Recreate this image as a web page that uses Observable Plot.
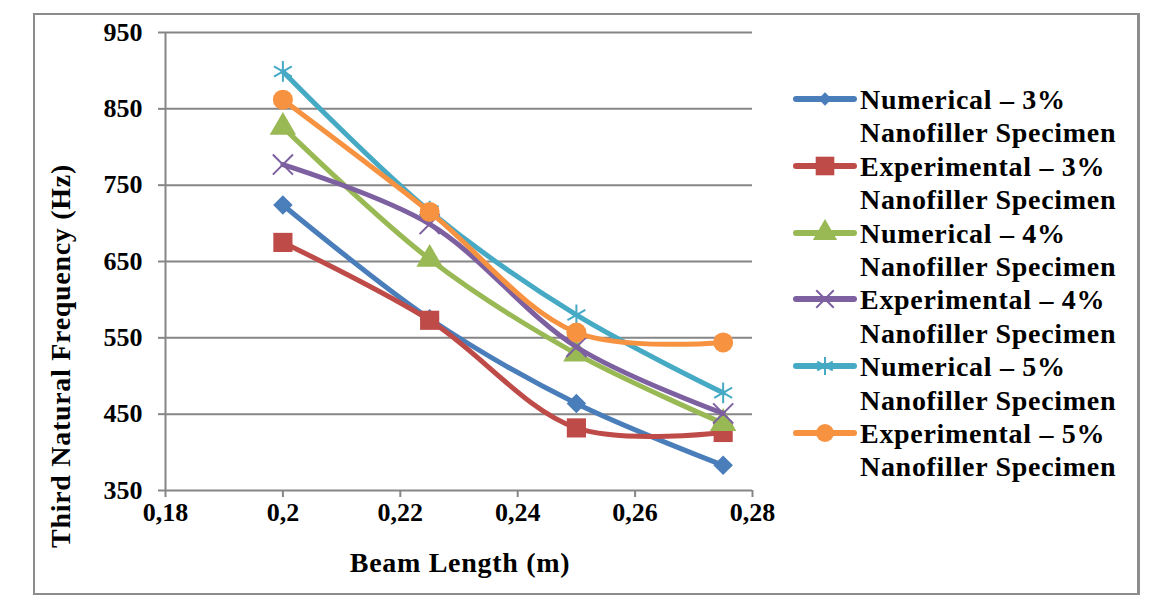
<!DOCTYPE html>
<html><head><meta charset="utf-8">
<script src="https://cdn.jsdelivr.net/npm/d3@7"></script>
<script src="https://cdn.jsdelivr.net/npm/@observablehq/plot@0.6"></script>
<style>
body{margin:0;background:#fff;}
#wrap{position:relative;width:1155px;height:603px;overflow:hidden;font-family:"Liberation Serif","Times New Roman",serif;font-weight:bold;}
#frame{position:absolute;left:33px;top:13px;width:1107px;height:582px;border:2px solid #8c8c8c;border-right-width:3px;box-sizing:border-box;}
#chart{position:absolute;left:0;top:0;}
.lg{position:absolute;left:793px;height:34px;line-height:34px;font-size:28px;letter-spacing:0.7px;color:#000;white-space:nowrap;}
.lg svg{vertical-align:top;}
.lg span{position:absolute;left:67px;top:0;}
.title{position:absolute;font-size:28px;line-height:28px;letter-spacing:0.7px;color:#000;white-space:nowrap;}
#xtitle{left:460px;top:549px;transform:translateX(-50%);}
#ytitle{left:61px;top:356px;transform:translate(-50%,-50%) rotate(-90deg);}
</style>
</head><body>
<div id="wrap"><div id="frame"></div><div id="chart"></div><div id="legend"></div>
<div id="xtitle" class="title"></div><div id="ytitle" class="title"></div></div>
<script>
const beamLength = [0.2, 0.225, 0.25, 0.275];
const num3 = [724, 575, 464, 383];
const exp3 = [675, 573, 432, 426];
const num4 = [826, 653, 529, 438];
const exp4 = [777, 699, 538, 451];
const num5 = [899, 716, 580, 478];
const exp5 = [862, 715, 557, 544];
const seriesNames = ["Numerical – 3%", "Experimental – 3%", "Numerical – 4%", "Experimental – 4%", "Numerical – 5%", "Experimental – 5%"];
const seriesSecondLine = "Nanofiller Specimen";
const seriesValues = [num3, exp3, num4, exp4, num5, exp5];
const seriesColors = ["#4A7EBB", "#BE4B48", "#98B954", "#7D60A0", "#46AAC5", "#F69240"];
const seriesSymbols = ["diamond2", "square", "triangle", "times", "asterisk", "circle"];
const yTicks = [350, 450, 550, 650, 750, 850, 950];
const xTicks = [0.18, 0.2, 0.22, 0.24, 0.26, 0.28];
const xTickLabels = ["0,18", "0,2", "0,22", "0,24", "0,26", "0,28"];
const xTitle = "Beam Length (m)";
const yTitle = "Third Natural Frequency (Hz)";

const symbolR = {diamond2: 8.8, square: 10.8, triangle: 9.8, times: 9.2, asterisk: 9.8, circle: 10};
const legendR = {diamond2: 6, square: 10.5, triangle: 9, times: 8, asterisk: 8.5, circle: 9};
const strokeOnly = {times: true, asterisk: true};

const marks = [
  Plot.ruleY(yTicks, {stroke: "#868686", strokeWidth: 2}),
  Plot.ruleX([xTicks[0]], {stroke: "#868686", strokeWidth: 2}),
  Plot.axisY({ticks: yTicks, tickSize: 7, tickPadding: 16, label: null, stroke: "#868686", strokeWidth: 2,
    fill: "#000", fontSize: 26, fontWeight: "bold", fontFamily: "Liberation Serif", tickFormat: d => String(d)}),
  Plot.axisX({ticks: xTicks, tickSize: 7, tickPadding: 5, label: null, stroke: "#868686", strokeWidth: 2,
    fill: "#000", fontSize: 26, fontWeight: "bold", fontFamily: "Liberation Serif",
    tickFormat: d => xTickLabels[xTicks.indexOf(d)]})
];

seriesValues.forEach((vals, i) => {
  const rows = beamLength.map((x, j) => ({x, y: vals[j]}));
  const col = seriesColors[i];
  const sym = seriesSymbols[i];
  marks.push(Plot.line(rows, {x: "x", y: "y", stroke: col, strokeWidth: 5, curve: "catmull-rom"}));
  if (strokeOnly[sym]) {
    marks.push(Plot.dot(rows, {x: "x", y: "y", symbol: () => sym, r: symbolR[sym], stroke: col, strokeWidth: 2, fill: "none"}));
  } else {
    marks.push(Plot.dot(rows, {x: "x", y: "y", symbol: () => sym, r: symbolR[sym], fill: col, stroke: "none"}));
  }
});

const chart = Plot.plot({
  width: 1155, height: 603,
  marginLeft: 165, marginRight: 403, marginTop: 32, marginBottom: 113,
  style: {fontFamily: "Liberation Serif", fontWeight: "bold", background: "transparent"},
  x: {domain: [0.18, 0.28]},
  y: {domain: [350, 950]},
  symbol: {type: "identity"},
  marks
});
document.getElementById("chart").appendChild(chart);
document.getElementById("xtitle").textContent = xTitle;
document.getElementById("ytitle").textContent = yTitle;

// legend
const d3Sym = {diamond2: d3.symbolDiamond2, square: d3.symbolSquare, triangle: d3.symbolTriangle,
  times: d3.symbolTimes, asterisk: d3.symbolAsterisk, circle: d3.symbolCircle};
const legend = document.getElementById("legend");
const lineStep = 33.4;
seriesNames.forEach((name, i) => {
  const sym = seriesSymbols[i];
  const col = seriesColors[i];
  const top1 = 100 + (2 * i) * lineStep - 17;
  const top2 = 100 + (2 * i + 1) * lineStep - 17;
  const row1 = document.createElement("div");
  row1.className = "lg";
  row1.style.top = top1 + "px";
  const r = legendR[sym];
  const path = d3.symbol(d3Sym[sym], Math.PI * r * r)();
  const symAttrs = strokeOnly[sym] ? `fill="none" stroke="${col}" stroke-width="2"` : `fill="${col}"`;
  row1.innerHTML = `<svg width="64" height="34"><line x1="3" x2="61" y1="16" y2="16" stroke="${col}" stroke-width="6" stroke-linecap="round"/>` +
    `<path d="${path}" transform="translate(32,16)" ${symAttrs}/></svg><span>${name}</span>`;
  legend.appendChild(row1);
  const row2 = document.createElement("div");
  row2.className = "lg";
  row2.style.top = top2 + "px";
  row2.innerHTML = `<span>${seriesSecondLine}</span>`;
  legend.appendChild(row2);
});
</script>
</body></html>
